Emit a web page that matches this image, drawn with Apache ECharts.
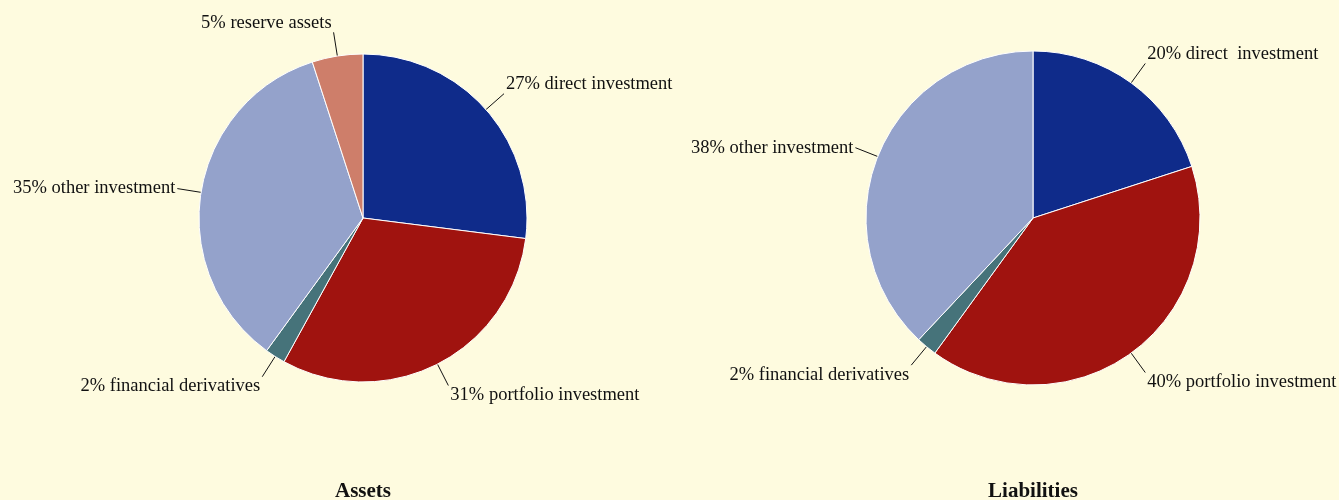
<!DOCTYPE html>
<html>
<head>
<meta charset="utf-8">
<script src="https://cdn.jsdelivr.net/npm/echarts@6/dist/echarts.min.js"></script>
<style>
  html, body { margin: 0; padding: 0; background: #fefbdf; }
  #chart { width: 1339px; height: 500px; }
</style>
</head>
<body>
<div id="chart"></div>
<script>
// Balance of payments: composition of external assets and liabilities (%)
const assetCategories = ['direct investment', 'portfolio investment', 'financial derivatives', 'other investment', 'reserve assets'];
const assetValues = [27, 31, 2, 35, 5];
const assetColors = ['#0f2b8a', '#a0130f', '#46737a', '#94a2cb', '#ce7e6a'];

const liabilityCategories = ['direct  investment', 'portfolio investment', 'financial derivatives', 'other investment'];
const liabilityValues = [20, 40, 2, 38];
const liabilityColors = ['#0f2b8a', '#a0130f', '#46737a', '#94a2cb'];

const titles = ['Assets', 'Liabilities'];

const serif = '"Liberation Serif", "DejaVu Serif", serif';

function buildData(cats, vals, colors) {
  return cats.map((c, i) => ({ name: c, value: vals[i], itemStyle: { color: colors[i] } }));
}

// Labels on steep leader lines hang off the line end by a corner rather than
// being centred on it: top-anchored below the pie, bottom-anchored above it.
function verticalAnchors(vals) {
  const total = vals.reduce((a, b) => a + b, 0);
  let cum = 0;
  return vals.map(v => {
    const mid = (cum + v / 2) / total;
    cum += v;
    const s = Math.sin(Math.PI / 2 - mid * 2 * Math.PI);
    return s > 0.5 ? 'bottom' : (s < -0.5 ? 'top' : 'middle');
  });
}

function pieSeries(data, vals, center, radius) {
  const anchors = verticalAnchors(vals);
  return {
    type: 'pie',
    center: center,
    radius: radius,
    startAngle: 90,
    clockwise: true,
    avoidLabelOverlap: false,
    animation: false,
    silent: true,
    itemStyle: { borderColor: '#ffffff', borderWidth: 1 },
    label: {
      show: true,
      position: 'outside',
      formatter: p => p.value + '% ' + p.name,
      color: '#111111',
      fontFamily: serif,
      fontSize: 18.5,
      distanceToLabelLine: 2
    },
    labelLine: {
      show: true,
      length: 24,
      length2: 0,
      smooth: false,
      lineStyle: { color: '#111111', width: 1 }
    },
    labelLayout: p => ({ verticalAlign: anchors[p.dataIndex] }),
    data: data
  };
}

const titleStyle = { fontFamily: serif, fontSize: 21, fontWeight: 'bold', color: '#111111' };

const chart = echarts.init(document.getElementById('chart'), null, { renderer: 'canvas' });
chart.setOption({
  backgroundColor: '#fefbdf',
  title: [
    { text: titles[0], left: 358, top: 476, textAlign: 'center', textStyle: titleStyle },
    { text: titles[1], left: 1028, top: 476, textAlign: 'center', textStyle: titleStyle }
  ],
  series: [
    pieSeries(buildData(assetCategories, assetValues, assetColors), assetValues, [363, 218], 164),
    pieSeries(buildData(liabilityCategories, liabilityValues, liabilityColors), liabilityValues, [1033, 218], 167)
  ]
});
</script>
</body>
</html>
